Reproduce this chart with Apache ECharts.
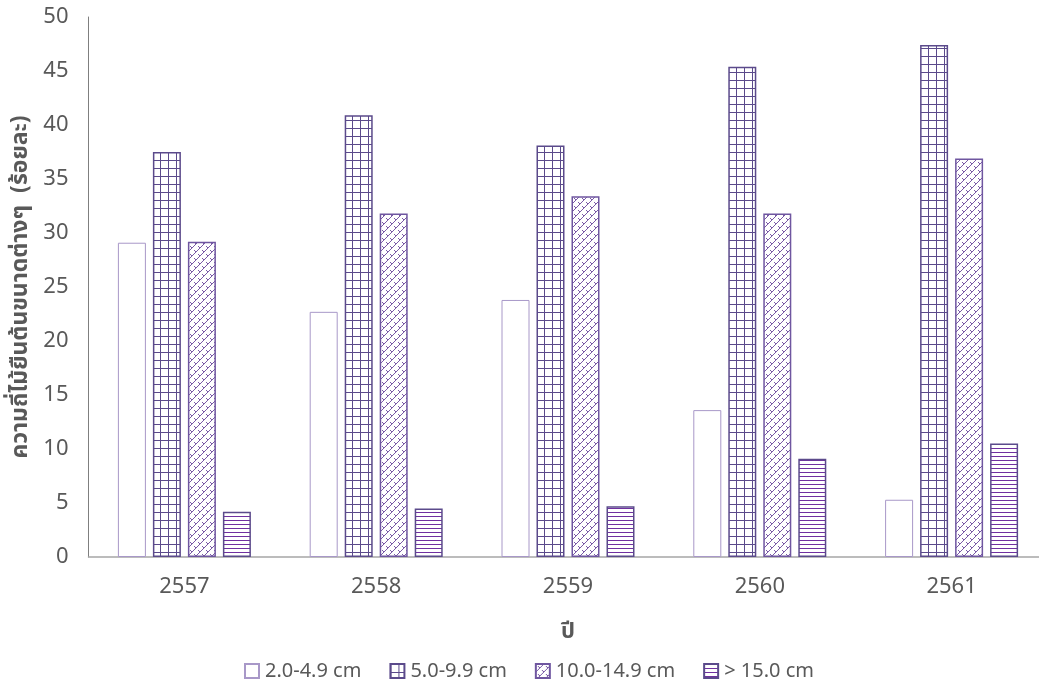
<!DOCTYPE html>
<html>
<head>
<meta charset="utf-8">
<script src="https://cdn.jsdelivr.net/npm/echarts@6/dist/echarts.min.js"></script>
<style>
  html, body { margin: 0; padding: 0; background: #fff; }
  #chart { width: 1039px; height: 684px; }
</style>
</head>
<body>
<div id="chart"></div>
<script>
// Share of trees by trunk-size class per year (percent)
const years = ['2557', '2558', '2559', '2560', '2561'];
const seriesNames = ['2.0-4.9 cm', '5.0-9.9 cm', '10.0-14.9 cm', '> 15.0 cm'];
const size2to5 = [29.1, 22.7, 23.8, 13.6, 5.3];
const size5to10 = [37.5, 40.9, 38.1, 45.4, 47.4];
const size10to15 = [29.2, 31.8, 33.4, 31.8, 36.9];
const size15plus = [4.2, 4.5, 4.7, 9.1, 10.5];
const yTicks = { min: 0, max: 50, interval: 5 };

const FONT = '"Noto Sans", "Noto Sans Thai", "DejaVu Sans", sans-serif';

function tile(w, h, draw) {
  const c = document.createElement('canvas');
  c.width = w; c.height = h;
  const g = c.getContext('2d');
  g.fillStyle = '#ffffff';
  g.fillRect(0, 0, w, h);
  draw(g);
  return { image: c, repeat: 'repeat' };
}

// Small grid hatch
const gridFill = tile(8, 8, g => {
  g.strokeStyle = '#5b4a8b';
  g.lineWidth = 1;
  g.beginPath();
  g.moveTo(0.5, 0); g.lineTo(0.5, 8);
  g.moveTo(0, 0.5); g.lineTo(8, 0.5);
  g.stroke();
});

// Dashed diagonal weave
const diagFill = tile(8, 8, g => {
  g.strokeStyle = '#7a5aa6';
  g.lineWidth = 1;
  g.beginPath();
  g.moveTo(0, 8); g.lineTo(8, 0);
  g.moveTo(2, 2); g.lineTo(4, 4);
  g.moveTo(6, 6); g.lineTo(8, 8);
  g.stroke();
});

// Horizontal stripes
const horizFill = tile(8, 4, g => {
  g.strokeStyle = '#7030a0';
  g.lineWidth = 1;
  g.beginPath();
  g.moveTo(0, 0.5); g.lineTo(8, 0.5);
  g.stroke();
});

const styles = [
  { color: '#ffffff', borderColor: '#a898c8', borderWidth: 1 },
  { color: gridFill, borderColor: '#5b4a8b', borderWidth: 1.5 },
  { color: diagFill, borderColor: '#6f56a0', borderWidth: 1.5 },
  { color: horizFill, borderColor: '#5b4a8b', borderWidth: 1.5 }
];
const values = [size2to5, size5to10, size10to15, size15plus];

const chart = echarts.init(document.getElementById('chart'));
chart.setOption({
  animation: false,
  textStyle: { fontFamily: FONT },
  grid: {
    left: 88.5, top: 17, width: 959, bottom: 127,
    containLabel: false, outerBoundsMode: 'none'
  },
  legend: {
    bottom: -2,
    left: 239,
    icon: 'rect',
    itemWidth: 14,
    itemHeight: 14,
    itemGap: 28,
    textStyle: { fontSize: 20, color: '#595959', fontFamily: FONT, padding: [0, 0, 0, 1] },
    data: seriesNames
  },
  xAxis: {
    type: 'category',
    data: years,
    name: 'ปี',
    nameLocation: 'middle',
    nameGap: 64,
    nameTextStyle: { fontSize: 22, fontWeight: 'bold', color: '#595959', fontFamily: FONT },
    axisLine: { lineStyle: { color: '#a6a6a6', width: 1.5 } },
    axisTick: { show: false },
    axisLabel: { fontSize: 22, color: '#595959', margin: 19 }
  },
  yAxis: {
    type: 'value',
    min: yTicks.min, max: yTicks.max, interval: yTicks.interval,
    name: 'ความถี่ไม้ยืนต้นขนาดต่างๆ  (ร้อยละ)',
    nameLocation: 'middle',
    nameGap: 55,
    nameTextStyle: { fontSize: 23, fontWeight: 'bold', color: '#595959', fontFamily: FONT },
    axisLine: { show: true, lineStyle: { color: '#7f7f7f', width: 1 } },
    axisTick: { show: false },
    splitLine: { show: false },
    axisLabel: { fontSize: 22, color: '#595959', margin: 20 }
  },
  series: seriesNames.map((n, i) => ({
    name: n,
    type: 'bar',
    data: values[i],
    barWidth: 28,
    barGap: '25%',
    itemStyle: styles[i]
  }))
});
</script>
</body>
</html>
